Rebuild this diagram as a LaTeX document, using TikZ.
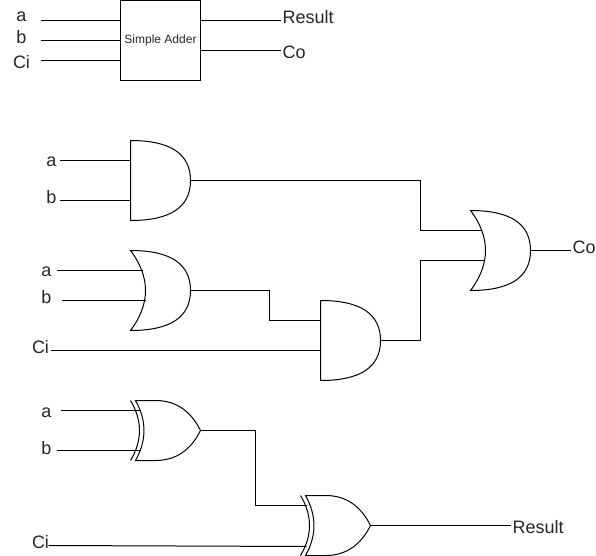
\documentclass[tikz,border=0pt]{standalone}
\usepackage{fontspec}
\setmainfont{Liberation Sans}
\tikzset{
  x=0.75pt,y=-0.75pt,
  wire/.style={draw=black,line width=0.75pt,line join=miter},
  gateoutline/.style={draw=black,line width=0.75pt,line join=miter,fill=white},
  gatebody/.style={inner sep=0pt,outer sep=0pt,draw=none},
  lbl/.style={inner sep=0pt,outer sep=0pt,font=\fontsize{13.5pt}{15pt}\selectfont,text=black!85},
  boxtext/.style={draw=black,line width=0.75pt,inner sep=0pt,outer sep=0pt,minimum width=60pt,minimum height=60pt,font=\fontsize{9pt}{10pt}\selectfont,text=black!85}
}
\newcommand{\gateAND}[3]{\begin{scope}[shift={(#2,#3)}]
  \path[gateoutline] (0,0) .. controls (40,0) and (60,13.33) .. (60,40) .. controls (60,66.67) and (40,80) .. (0,80) -- cycle;
  \node[gatebody,minimum width=45pt,minimum height=60pt] (#1) at (30,40) {};
\end{scope}}
\newcommand{\gateOR}[3]{\begin{scope}[shift={(#2,#3)}]
  \path[gateoutline] (0,0) .. controls (40,0) and (60,13.33) .. (60,40) .. controls (60,66.67) and (40,80) .. (0,80) .. controls (20,53.33) and (20,26.67) .. (0,0) -- cycle;
  \node[gatebody,minimum width=45pt,minimum height=60pt] (#1) at (30,40) {};
\end{scope}}
\newcommand{\gateXOR}[3]{\begin{scope}[shift={(#2,#3)}]
  \path[gateoutline] (5,0) -- (25,0) .. controls (45,0) and (60,10) .. (70,30) .. controls (60,50) and (45,60) .. (25,60) -- (5,60) .. controls (16.3,40) and (16.3,20) .. (5,0) -- cycle;
  \draw[wire] (0,0) .. controls (12,20) and (12,40) .. (0,60);
  \node[gatebody,minimum width=52.5pt,minimum height=45pt] (#1) at (35,30) {};
\end{scope}}
\begin{document}
\begin{tikzpicture}
\useasboundingbox (-0.5,-0.5) rectangle (595.5,555.5);
% top block
\node[boxtext] (adder) at (160,40) {Simple Adder};
\node[lbl] (ta) at (21,16) {a};
\node[lbl] (tb) at (21,37) {b};
\node[lbl] (tc) at (21,62) {Ci};
\node[lbl,anchor=west] (tr) at (282,17) {Result};
\node[lbl,anchor=west] (to) at (282,52) {Co};
\coordinate (tas) at (40,20); \coordinate (tae) at (120,20);
\coordinate (tbs) at (40,40);
\coordinate (tcs) at (40,60); \coordinate (tce) at (120,60);
\coordinate (trs) at (200,20); \coordinate (tre) at (280,20);
\coordinate (tos) at (200,50); \coordinate (toe) at (280,50);
\draw[wire] (tas) -- (tae);
\draw[wire] (tbs) -- (adder.west);
\draw[wire] (tcs) -- (tce);
\draw[wire] (trs) -- (tre);
\draw[wire] (tos) -- (toe);
% labels
\node[lbl] (a1) at (51,161) {a};
\node[lbl] (b1) at (51,197) {b};
\node[lbl] (a2) at (46,271) {a};
\node[lbl] (b2) at (46,297) {b};
\node[lbl] (c2) at (40,347) {Ci};
\node[lbl] (a3) at (46,412) {a};
\node[lbl] (b3) at (46,448) {b};
\node[lbl] (c3) at (40,542) {Ci};
\node[lbl,anchor=west] (co) at (572,247) {Co};
\node[lbl,anchor=west] (res) at (512,527) {Result};
% wire ends
\coordinate (a1s) at (59,160); \coordinate (a1e) at (130,160);
\coordinate (b1s) at (59,200); \coordinate (b1e) at (130,200);
\coordinate (a2s) at (56,270); \coordinate (a2e) at (142,270);
\coordinate (b2s) at (61,300); \coordinate (b2e) at (145,300);
\coordinate (c2s) at (50,350); \coordinate (c2e) at (320,350);
\coordinate (a3s) at (60,410); \coordinate (a3e) at (140,410);
\coordinate (b3s) at (56,450); \coordinate (b3e) at (140,450);
\coordinate (c3s) at (48,545); \coordinate (c3e) at (306,546);
\coordinate (and1o) at (190,180); \coordinate (or2a) at (481,230);
\coordinate (or1o) at (190,290); \coordinate (and2a) at (320,320);
\coordinate (and2o) at (380,340); \coordinate (or2b) at (484,260);
\coordinate (or2o) at (530,250); \coordinate (coe) at (570,250);
\coordinate (xor1o) at (200,430); \coordinate (xor2a) at (306,505);
\coordinate (xor2o) at (370,525); \coordinate (rese) at (510,525);
% gates
\gateAND{and1}{130}{140}
\gateOR{or1}{130}{250}
\gateAND{and2}{320}{300}
\gateOR{or2}{470}{210}
\gateXOR{xor1}{130}{400}
\gateXOR{xor2}{300}{495}
% wires
\draw[wire] (a1s) -- (a1e);
\draw[wire] (b1s) -- (b1e);
\draw[wire] (a2s) -- (a2e);
\draw[wire] (b2s) -- (b2e);
\draw[wire] (c2s) -- (c2e);
\draw[wire] (a3s) -- (a3e);
\draw[wire] (b3s) -- (b3e);
\draw[wire] (c3s) -- (c3e);
\draw[wire] (and1o) -- (420,180) -- (420,230) -- (or2a);
\draw[wire] (or1o) -- (269,290) -- (269,320) -- (and2a);
\draw[wire] (and2o) -- (420,340) -- (420,260) -- (or2b);
\draw[wire] (or2o) -- (coe);
\draw[wire] (xor1o) -- (255,430) -- (255,505) -- (xor2a);
\draw[wire] (xor2o) -- (rese);
\end{tikzpicture}
\end{document}
